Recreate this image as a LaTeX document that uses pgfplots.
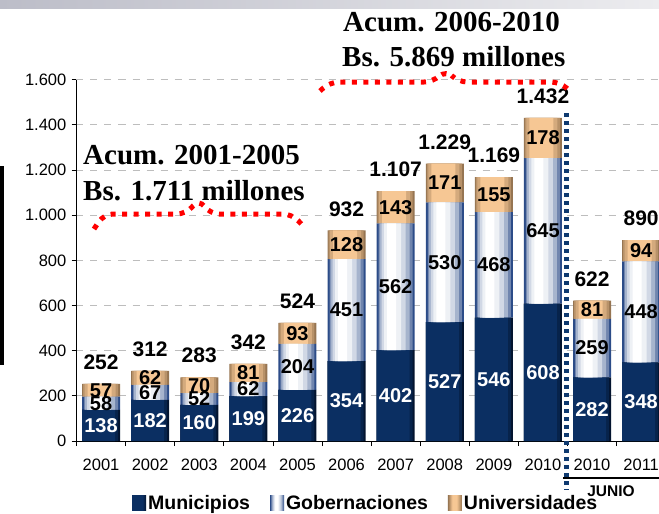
\documentclass[border=0pt]{standalone}
\usepackage{pgfplots}
\pgfplotsset{compat=1.18}
\usepackage{pgfplotstable}
\usepackage{fontspec}
\setmainfont{Liberation Sans}
\newfontfamily\serifb{Liberation Serif}
\definecolor{navy}{HTML}{0B2F62}
\definecolor{navyd}{HTML}{03142F}
\definecolor{gobl}{HTML}{2C4C88}
\definecolor{unim}{HTML}{F6C794}
\definecolor{unil}{HTML}{967552}
\definecolor{gridc}{HTML}{BDBDBD}
\definecolor{dotblue}{HTML}{0F3A70}
\definecolor{bandl}{HTML}{BCBDC8}
\definecolor{bandr}{HTML}{ECECEF}

\pgfdeclarehorizontalshading{munshade}{100bp}{color(0bp)=(navy); color(25bp)=(navy); color(62bp)=(navy); color(75bp)=(navyd); color(100bp)=(navyd)}
\pgfdeclarehorizontalshading{gobshade}{100bp}{color(0bp)=(gobl); color(25bp)=(gobl); color(33bp)=(gobl!40!white); color(42bp)=(white); color(52bp)=(white); color(64bp)=(gobl!35!white); color(75bp)=(gobl); color(100bp)=(gobl)}
\pgfdeclarehorizontalshading{unishade}{100bp}{color(0bp)=(unil); color(25bp)=(unil); color(40bp)=(unim); color(56bp)=(unim); color(75bp)=(unil); color(100bp)=(unil)}

\pgfplotstableread{
x mun gob uni tot
0 138 58 57 252
1 182 67 62 312
2 160 52 70 283
3 199 62 81 342
4 226 204 93 524
5 354 451 128 932
6 402 562 143 1107
7 527 530 171 1229
8 546 468 155 1169
9 608 645 178 1432
10 282 259 81 622
11 348 448 94 890
}\data

\pgfplotsset{
  base/.style={
    at={(76.5pt,-441pt)}, anchor=south west,
    x=49.1pt, y=0.22581pt,
    xmin=-0.5, xmax=11.4, ymin=0, ymax=1600,
    clip=false,
  },
}
% one layer of the stacked bars: fill, width, shift for each of the three series
\newcommand\barlayer[9]{%
\begin{axis}[base, ybar stacked, hide axis]
\addplot[draw=none, fill=#1, bar width=#2, bar shift=#3] table[x=x, y=mun]{\data};
\addplot[draw=none, fill=#4, bar width=#5, bar shift=#6] table[x=x, y=gob]{\data};
\addplot[draw=none, fill=#7, bar width=#8, bar shift=#9] table[x=x, y=uni]{\data};
\end{axis}}

\begin{document}
\begin{tikzpicture}
% slide decorations
\shade[left color=bandl, right color=bandr] (0pt,0pt) rectangle (659pt,-8pt);
\fill[black] (0pt,-166pt) rectangle (4pt,-365pt);

% axis, grid, ticks, base layer of bars and legend
\begin{axis}[
  base,
  ybar stacked, bar width=38pt,
  axis x line*=bottom, axis y line*=left,
  axis line style={black, line width=0.9pt},
  ytick={0,200,...,1600},
  xtick={-0.5,0.5,...,10.5},
  xticklabels={},
  tick align=outside,
  major tick length=5pt,
  tick style={black, line width=0.8pt},
  ymajorgrids,
  grid style={gridc, line width=0.8pt, dash pattern=on 7pt off 7pt},
  /pgf/number format/1000 sep={.},
  /pgf/number format/assume math mode=true,
  yticklabel style={font=\fontsize{16.5}{16.5}\selectfont, inner sep=0pt, xshift=-5pt},
  legend style={at={(0.495,-0.172)}, anchor=center, draw=none, fill=none,
    legend columns=3, font=\bfseries\fontsize{19.5}{19.5}\selectfont,
    /tikz/every even column/.append style={column sep=18pt}},
]
\addplot[draw=none, fill=navyd,
  legend image code/.code={\path[shade, shading=munshade] (0pt,-7pt) rectangle (14pt,8pt);}]
  table[x=x, y=mun]{\data};
\addplot[draw=none, fill=gobl,
  legend image code/.code={\path[shade, shading=gobshade] (0pt,-7pt) rectangle (14pt,8pt);}]
  table[x=x, y=gob]{\data};
\addplot[draw=none, fill=unil,
  legend image code/.code={\path[shade, shading=unishade] (0pt,-7pt) rectangle (14pt,8pt);}]
  table[x=x, y=uni]{\data};
\legend{Municipios, Gobernaciones, Universidades}
\end{axis}

% gradient layers (narrower, lighter bars over the base)
\barlayer{navy!55!navyd}{36pt}{-1pt}{gobl!68!white}{34pt}{0pt}{unil!65!unim}{35pt}{-0.5pt}
\barlayer{navy}{33pt}{-2.5pt}{gobl!42!white}{30pt}{-1pt}{unil!35!unim}{31pt}{-1pt}
\barlayer{none}{1pt}{0pt}{gobl!22!white}{24pt}{-2pt}{unim}{24pt}{-1.5pt}
\barlayer{none}{1pt}{0pt}{gobl!8!white}{17pt}{-3pt}{none}{1pt}{0pt}
\barlayer{none}{1pt}{0pt}{white}{9pt}{-4pt}{none}{1pt}{0pt}

% labels and category names
\begin{axis}[
  base,
  axis x line*=bottom, axis y line=none,
  axis line style={draw=none},
  xtick={0,...,11},
  xticklabels={2001,2002,2003,2004,2005,2006,2007,2008,2009,2010,2010,2011},
  xtick style={draw=none},
  xticklabel style={font=\fontsize{16.5}{16.5}\selectfont, inner sep=0pt, anchor=north, yshift=-18pt},
  ytick=\empty,
  /pgf/number format/1000 sep={.},
  /pgf/number format/assume math mode=true,
  nodes near coords,
  point meta=explicit,
]
\addplot[draw=none, mark=none, nodes near coords style={anchor=center, text=white, inner sep=0pt, font=\bfseries\fontsize{20}{20}\selectfont}]
  table[x=x, y expr=\thisrow{mun}/2, meta=mun]{\data};
\addplot[draw=none, mark=none, nodes near coords style={anchor=center, text=black, inner sep=0pt, font=\bfseries\fontsize{20}{20}\selectfont}]
  table[x=x, y expr=\thisrow{mun}+\thisrow{gob}/2, meta=gob]{\data};
\addplot[draw=none, mark=none, nodes near coords style={anchor=center, text=black, inner sep=0pt, font=\bfseries\fontsize{20}{20}\selectfont}]
  table[x=x, y expr=\thisrow{mun}+\thisrow{gob}+\thisrow{uni}/2, meta=uni]{\data};
\addplot[draw=none, mark=none, nodes near coords style={anchor=south, text=black, inner sep=0pt, yshift=14pt, font=\bfseries\fontsize{21}{21}\selectfont}]
  table[x=x, y=tot, meta=tot]{\data};
\end{axis}

% annotations
\node[anchor=base west, inner sep=0pt, font=\serifb\bfseries\fontsize{29}{29}\selectfont] at (83pt,-164pt) {Acum. 2001-2005};
\node[anchor=base west, inner sep=0pt, font=\serifb\bfseries\fontsize{29}{29}\selectfont] at (83pt,-200pt) {Bs. 1.711 millones};
\node[anchor=base west, inner sep=0pt, font=\serifb\bfseries\fontsize{29}{29}\selectfont] at (343pt,-31pt) {Acum. 2006-2010};
\node[anchor=base west, inner sep=0pt, font=\serifb\bfseries\fontsize{29}{29}\selectfont] at (342pt,-66pt) {Bs. 5.869 millones};

% red dotted braces
\draw[red, line width=5pt, line cap=butt, dash pattern=on 5pt off 6.5pt, rounded corners=9pt]
  (94pt,-229pt) -- (104pt,-214pt) -- (186pt,-214pt) -- (199pt,-199pt) -- (210pt,-214pt) -- (292pt,-214pt) -- (305pt,-228pt);
\draw[red, line width=5pt, line cap=butt, dash pattern=on 5pt off 6.5pt, rounded corners=9pt]
  (320pt,-91pt) -- (330pt,-82pt) -- (433pt,-82pt) -- (446pt,-70pt) -- (458pt,-82pt) -- (560pt,-82pt) -- (571pt,-92pt);

% blue dotted separator and JUNIO bracket
\draw[black, line width=1.5pt] (563pt,-478pt) -- (659pt,-478pt);
\draw[dotblue, line width=5pt, dash pattern=on 4pt off 4pt] (566pt,-113pt) -- (566pt,-490pt);
\node[font=\bfseries\fontsize{15.5}{15.5}\selectfont, inner sep=0pt] at (611pt,-491pt) {JUNIO};

\pgfresetboundingbox
\useasboundingbox (0pt,0pt) rectangle (659pt,-514pt);
\end{tikzpicture}
\end{document}
